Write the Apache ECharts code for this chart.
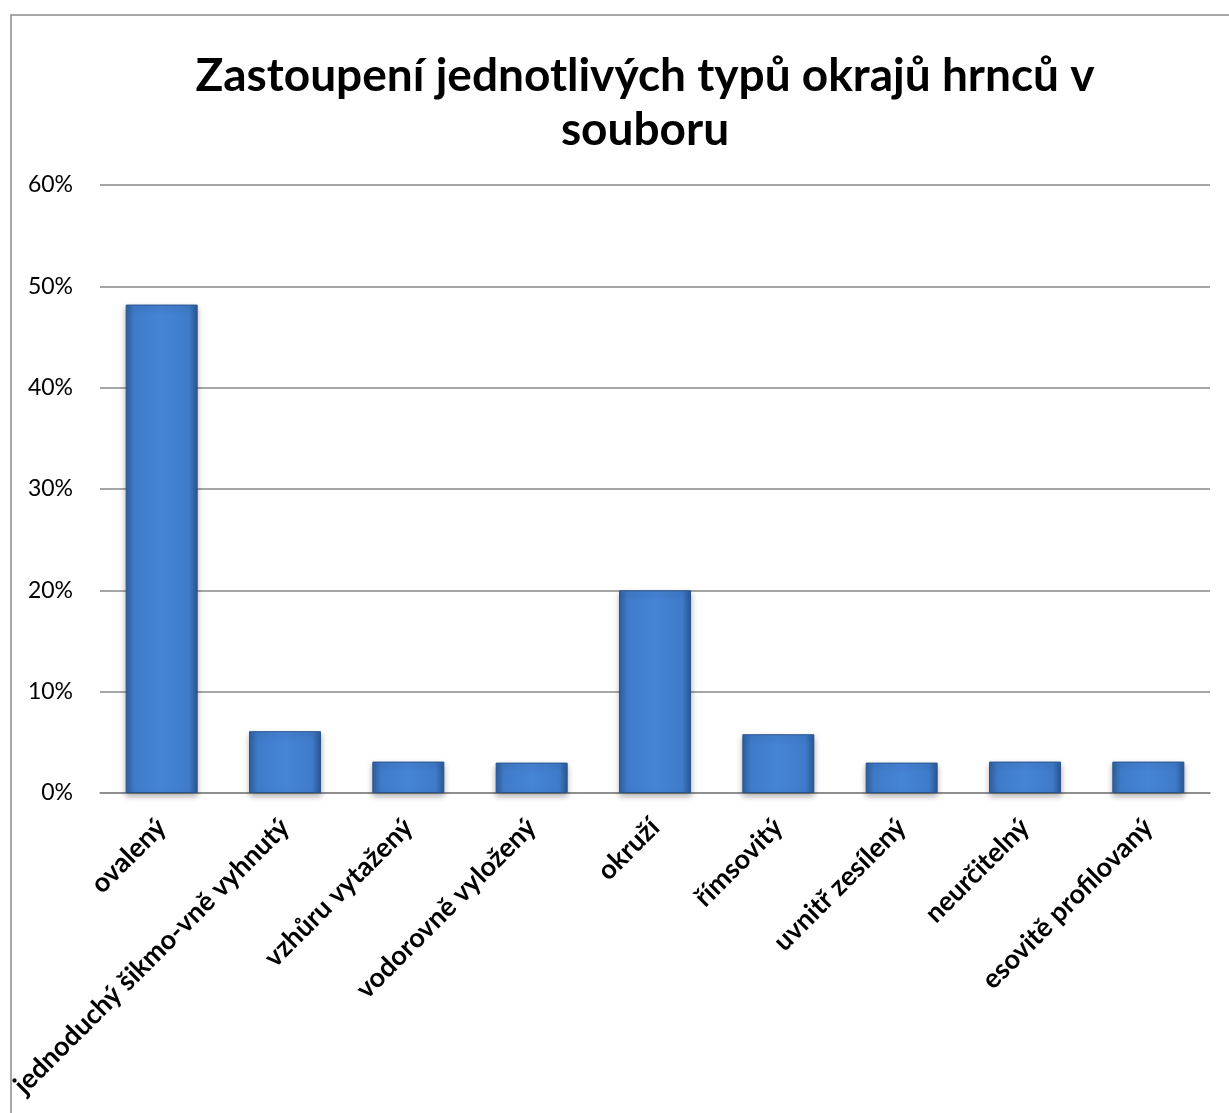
<!DOCTYPE html>
<html>
<head>
<meta charset="utf-8">
<script src="https://cdn.jsdelivr.net/npm/echarts@6/dist/echarts.min.js"></script>
<style>
	html, body { margin: 0; padding: 0; background: #fff; }
	#chart { width: 1229px; height: 1113px; }
</style>
</head>
<body>
<div id="chart"></div>
<script>
const categories = ["ovalený", "jednoduchý šikmo-vně vyhnutý", "vzhůru vytažený", "vodorovně vyložený", "okruží", "římsovitý", "uvnitř zesílený", "neurčitelný", "esovitě profilovaný"];
const shares = [0.482, 0.061, 0.031, 0.030, 0.200, 0.058, 0.030, 0.031, 0.031];
const titleText = "Zastoupení jednotlivých typů okrajů hrnců v\nsouboru";

const chart = echarts.init(document.getElementById("chart"));
const option = {
	animation: false,
	graphic: [
		{
			type: "rect",
			shape: { x: 11, y: 15, width: 1300, height: 1200 },
			style: { fill: "none", stroke: "#8c8c8c", lineWidth: 1.5 },
			silent: true,
		},
	],
	title: {
		text: titleText,
		left: 640,
		textAlign: "center",
		top: 44,
		textStyle: {
			fontFamily: "Lato",
			fontWeight: "bold",
			fontSize: 46,
			lineHeight: 54,
			color: "#000",
		},
	},
	grid: {
		left: 100,
		right: 19,
		top: 185,
		bottom: 320,
		outerBoundsMode: "none",
	},
	xAxis: {
		type: "category",
		data: categories,
		axisTick: { show: false },
		axisLine: { lineStyle: { color: "#888", width: 1.5 } },
		axisLabel: {
			rotate: 45,
			interval: 0,
			margin: 30,
			fontFamily: "Lato",
			fontWeight: "bold",
			fontSize: 27,
			color: "#000",
		},
	},
	yAxis: {
		type: "value",
		min: 0,
		max: 0.6,
		interval: 0.1,
		axisLine: { show: false },
		axisTick: { show: false },
		splitLine: { lineStyle: { color: "#888", width: 1.5 } },
		axisLabel: {
			margin: 27,
			fontFamily: "Lato",
			fontSize: 23,
			color: "#000",
			formatter: function (v) {
				return Math.round(v * 100) + "%";
			},
		},
	},
	series: [
		{
			type: "bar",
			data: shares,
			barWidth: 72,
			itemStyle: {
				color: new echarts.graphic.LinearGradient(0, 0, 1, 0, [
					{ offset: 0, color: "#2f609f" },
					{ offset: 0.12, color: "#3f7bc9" },
					{ offset: 0.5, color: "#4684d6" },
					{ offset: 0.88, color: "#3f7bc9" },
					{ offset: 1, color: "#2a5896" },
				]),
				borderColor: "#2a5490",
				borderWidth: 1,
				shadowColor: "rgba(0,0,0,0.3)",
				shadowBlur: 6,
				shadowOffsetY: 3,
			},
		},
	],
};
chart.setOption(option);
</script>
</body>
</html>
